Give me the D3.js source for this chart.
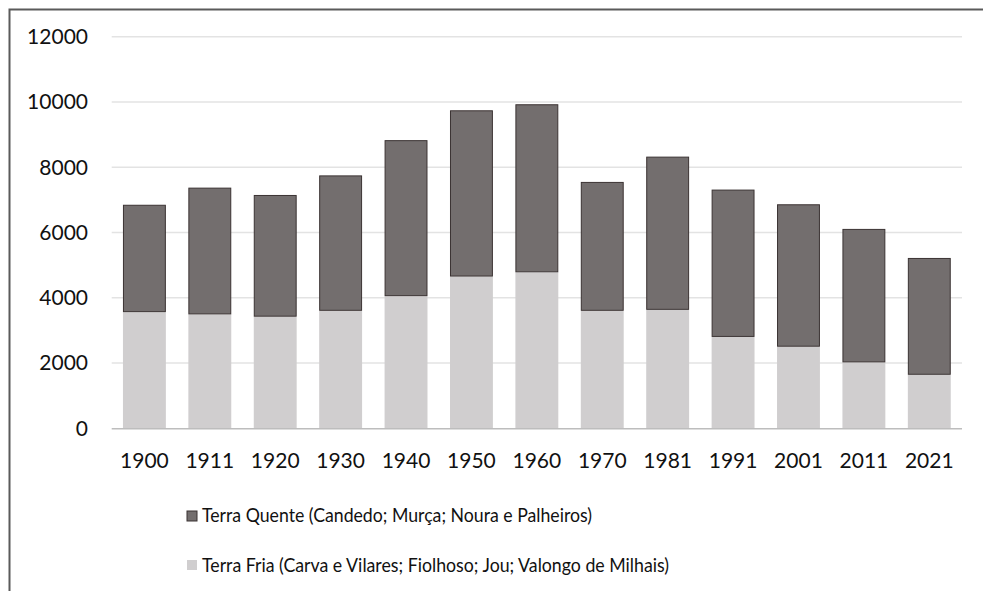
<!DOCTYPE html>
<html><head><meta charset="utf-8">
<script src="https://cdn.jsdelivr.net/npm/d3@7"></script>
<style>html,body{margin:0;padding:0;background:#fff;overflow:hidden}</style>
</head><body>
<svg id="c" width="983" height="591"></svg>
<script>
const years = ["1900","1911","1920","1930","1940","1950","1960","1970","1981","1991","2001","2011","2021"];
const terraFria = [3560,3490,3420,3600,4050,4650,4780,3600,3630,2800,2500,2020,1640];
const terraQuenteTotal = [6850,7375,7150,7750,8830,9745,9930,7550,8325,7315,6865,6110,5220];
const terraQuente = terraQuenteTotal.map((t,i)=>t-terraFria[i]);
const yTicks = [0,2000,4000,6000,8000,10000,12000];
const seriesNames = ["Terra Quente (Candedo; Murça; Noura e Palheiros)","Terra Fria (Carva e Vilares; Fiolhoso; Jou; Valongo de Milhais)"];
const colors = {dark:"#736e6e", darkStroke:"#3b3333", light:"#d0cecf"};

const svg = d3.select("#c");
const font = "Lato, 'Open Sans', sans-serif";
// outer frame
svg.append("rect").attr("x",9.5).attr("y",9.5).attr("width",1000).attr("height",600)
  .attr("fill","none").attr("stroke","#5a5a5a").attr("stroke-width",2);

const x = d3.scaleBand().domain(years).range([111.7,962]).paddingInner(0.344).paddingOuter(0.172);
const y = d3.scaleLinear().domain([0,12000]).range([428.3,36.7]);

// gridlines
svg.append("g").selectAll("line").data(yTicks.filter(d=>d>0)).join("line")
  .attr("x1",111.7).attr("x2",962).attr("y1",d=>y(d)).attr("y2",d=>y(d))
  .attr("stroke","#e3e3e3").attr("stroke-width",1.6);

// y labels
svg.append("g").selectAll("text").data(yTicks).join("text")
  .attr("x",88).attr("y",d=>y(d)).attr("dy","0.35em").attr("text-anchor","end")
  .attr("font-family",font).attr("font-size",21).attr("fill","#111").text(d=>d);

const stack = years.map((yr,i)=>({yr, fria:terraFria[i], quente:terraQuente[i]}));
// light bars
svg.append("g").selectAll("rect").data(stack).join("rect")
  .attr("x",d=>x(d.yr)).attr("width",x.bandwidth())
  .attr("y",d=>y(d.fria)).attr("height",d=>y(0)-y(d.fria))
  .attr("fill",colors.light);
// dark bars
svg.append("g").selectAll("rect").data(stack).join("rect")
  .attr("x",d=>x(d.yr)+0.5).attr("width",x.bandwidth()-1)
  .attr("y",d=>y(d.fria+d.quente)+0.5).attr("height",d=>y(d.fria)-y(d.fria+d.quente)-1)
  .attr("fill",colors.dark).attr("stroke",colors.darkStroke).attr("stroke-width",1);

// x axis line
svg.append("line").attr("x1",111.7).attr("x2",962).attr("y1",y(0)+0.5).attr("y2",y(0)+0.5)
  .attr("stroke","#bdbdbd").attr("stroke-width",1.5);

// x labels
svg.append("g").selectAll("text").data(years).join("text")
  .attr("x",d=>x(d)+x.bandwidth()/2).attr("y",468).attr("text-anchor","middle")
  .attr("font-family",font).attr("font-size",21).attr("fill","#111").text(d=>d);

// legend
const leg = [{name:seriesNames[0],fill:colors.dark,stroke:colors.darkStroke,cy:516,base:522,len:390},
             {name:seriesNames[1],fill:colors.light,stroke:"none",cy:565,base:571.5,len:467}];
const lg = svg.append("g").selectAll("g").data(leg).join("g");
lg.append("rect").attr("x",187).attr("y",d=>d.cy-5).attr("width",10).attr("height",10)
  .attr("fill",d=>d.fill).attr("stroke",d=>d.stroke).attr("stroke-width",1);
lg.append("text").attr("x",202).attr("y",d=>d.base)
  .attr("font-family",font).attr("font-size",20).attr("fill","#111")
  .attr("textLength",d=>d.len).attr("lengthAdjust","spacingAndGlyphs").text(d=>d.name);
</script>
</body></html>
